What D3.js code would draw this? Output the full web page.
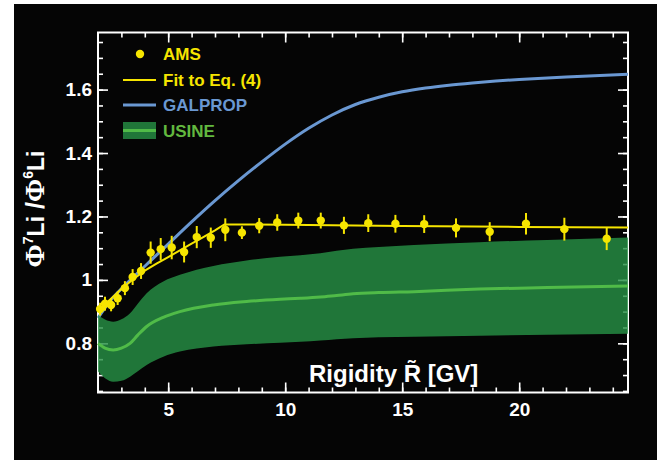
<!DOCTYPE html>
<html lang="en">
<head>
<meta charset="UTF-8">
<title>7Li/6Li ratio</title>
<script src="https://cdn.jsdelivr.net/npm/d3@7"></script>
<style>
  body { margin: 0; background: #fff; }
  text { font-family: "Liberation Sans", Arial, sans-serif; font-weight: bold; }
</style>
</head>
<body>
<div id="chart"></div>
<script>
// AMS data points
const amsR = [2.09, 2.30, 2.56, 2.84, 3.15, 3.48, 3.84, 4.25, 4.68, 5.15, 5.68, 6.22, 6.82, 7.44,
  8.15, 8.89, 9.66, 10.56, 11.52, 12.51, 13.55, 14.71, 15.94, 17.30, 18.74, 20.29, 21.93, 23.74];
const amsRatio = [0.908, 0.925, 0.921, 0.942, 0.974, 1.009, 1.028, 1.086, 1.097, 1.102, 1.088, 1.135, 1.133, 1.158,
  1.149, 1.171, 1.181, 1.187, 1.187, 1.172, 1.179, 1.177, 1.176, 1.164, 1.152, 1.177, 1.160, 1.130];
const amsErr = [0.02, 0.022, 0.02, 0.021, 0.022, 0.025, 0.025, 0.035, 0.035, 0.037, 0.033, 0.035, 0.032, 0.036,
  0.02, 0.024, 0.026, 0.025, 0.025, 0.027, 0.028, 0.028, 0.028, 0.03, 0.03, 0.034, 0.036, 0.036];

// fit to Eq. (4)
const fitR = [2.0, 2.5, 3.0, 3.5, 4.0, 4.5, 5.0, 5.5, 6.0, 6.5, 7.0, 7.4, 10, 15, 20, 24.65];
const fitRatio = [0.903, 0.937, 0.971, 1.002, 1.029, 1.051, 1.072, 1.093, 1.114, 1.135, 1.156, 1.175, 1.174, 1.170, 1.167, 1.165];

// GALPROP model
const galpropR = [2, 2.5, 3, 3.5, 4, 4.5, 5, 6, 7, 8, 9, 10, 11, 12, 13, 14, 15, 16, 17, 18, 19, 20, 22, 24.65];
const galpropRatio = [0.88, 0.932, 0.972, 1.008, 1.043, 1.078, 1.113, 1.183, 1.25, 1.313, 1.372, 1.428, 1.478, 1.52,
  1.553, 1.576, 1.593, 1.605, 1.614, 1.621, 1.627, 1.632, 1.640, 1.648];

// USINE model band
const usineR = [2.0, 2.3, 2.65, 3.0, 3.37, 3.7, 4.08, 4.79, 5.5, 6.93, 8.35, 9.78, 10.65, 11.5, 12.2, 12.9, 14, 15.5, 18.3, 21.2, 24.65];
const usineUpper = [0.889, 0.875, 0.868, 0.876, 0.895, 0.925, 0.958, 0.995, 1.016, 1.044, 1.061, 1.073, 1.078, 1.084, 1.092, 1.098, 1.104, 1.110, 1.119, 1.126, 1.134];
const usineCenter = [0.80, 0.785, 0.779, 0.785, 0.80, 0.826, 0.853, 0.882, 0.90, 0.921, 0.932, 0.939, 0.942, 0.946, 0.951, 0.956, 0.960, 0.963, 0.971, 0.976, 0.981];
const usineLower = [0.711, 0.69, 0.679, 0.682, 0.695, 0.712, 0.732, 0.758, 0.774, 0.79, 0.797, 0.802, 0.805, 0.809, 0.813, 0.816, 0.819, 0.821, 0.824, 0.827, 0.830];

const xTicks = [5, 10, 15, 20];
const yTicks = [0.8, 1, 1.2, 1.4, 1.6];

const width = 672, height = 460;
const marginTop = 32.5, marginRight = 44, marginBottom = 67.5, marginLeft = 98;

const yellow = "#f6e500", blue = "#6a98d2", bandGreen = "#279045", lineGreen = "#50bb48";

const x = d3.scaleLinear().domain([2, 24.65]).range([marginLeft, width - marginRight]);
const y = d3.scaleLinear().domain([0.645, 1.78]).range([height - marginBottom, marginTop]);

const svg = d3.select("#chart").append("svg")
  .attr("width", width)
  .attr("height", height);

svg.append("rect")
  .attr("x", 14).attr("y", 4)
  .attr("width", 643).attr("height", 456)
  .attr("fill", "#050505");

// axes: ticks pointing inward on all four sides
const xMinor = d3.range(3, 25);
const yMinor = d3.range(0.65, 1.78, 0.05);
const axisStyle = g => {
  g.selectAll(".domain").remove();
  g.selectAll("line").attr("stroke", "#fff").attr("stroke-width", 1.6);
  g.selectAll("text").attr("fill", "#fff").attr("font-size", 19);
};

svg.append("g")
  .attr("transform", `translate(0,${height - marginBottom})`)
  .call(d3.axisBottom(x).tickValues(xMinor).tickSize(-5).tickFormat(""))
  .call(axisStyle);
svg.append("g")
  .attr("transform", `translate(0,${height - marginBottom})`)
  .call(d3.axisBottom(x).tickValues(xTicks).tickSize(-10).tickPadding(5).tickFormat(d3.format("d")))
  .call(axisStyle)
  .call(g => g.selectAll("text").attr("dy", "0.95em"));
svg.append("g")
  .attr("transform", `translate(0,${marginTop})`)
  .call(d3.axisTop(x).tickValues(xMinor).tickSize(-5).tickFormat(""))
  .call(axisStyle);
svg.append("g")
  .attr("transform", `translate(0,${marginTop})`)
  .call(d3.axisTop(x).tickValues(xTicks).tickSize(-10).tickFormat(""))
  .call(axisStyle);

svg.append("g")
  .attr("transform", `translate(${marginLeft},0)`)
  .call(d3.axisLeft(y).tickValues(yMinor).tickSize(-5).tickFormat(""))
  .call(axisStyle);
svg.append("g")
  .attr("transform", `translate(${marginLeft},0)`)
  .call(d3.axisLeft(y).tickValues(yTicks).tickSize(-10).tickPadding(6).tickFormat(d => d === 1 ? "1" : d3.format(".1f")(d)))
  .call(axisStyle);
svg.append("g")
  .attr("transform", `translate(${width - marginRight},0)`)
  .call(d3.axisRight(y).tickValues(yMinor).tickSize(-5).tickFormat(""))
  .call(axisStyle);
svg.append("g")
  .attr("transform", `translate(${width - marginRight},0)`)
  .call(d3.axisRight(y).tickValues(yTicks).tickSize(-10).tickFormat(""))
  .call(axisStyle);

// frame
svg.append("rect")
  .attr("x", marginLeft).attr("y", marginTop)
  .attr("width", width - marginRight - marginLeft)
  .attr("height", height - marginBottom - marginTop)
  .attr("fill", "none").attr("stroke", "#fff").attr("stroke-width", 2);

// GALPROP
const galprop = galpropR.map((r, i) => [r, galpropRatio[i]]);
svg.append("path")
  .datum(galprop)
  .attr("fill", "none").attr("stroke", blue).attr("stroke-width", 3)
  .attr("d", d3.line().x(d => x(d[0])).y(d => y(d[1])).curve(d3.curveMonotoneX));

// USINE band + central line
const usine = usineR.map((r, i) => ({r, lo: usineLower[i], mid: usineCenter[i], hi: usineUpper[i]}));
svg.append("path")
  .datum(usine)
  .attr("fill", bandGreen).attr("fill-opacity", 0.82)
  .attr("d", d3.area().x(d => x(d.r)).y0(d => y(d.lo)).y1(d => y(d.hi)).curve(d3.curveMonotoneX));
svg.append("path")
  .datum(usine)
  .attr("fill", "none").attr("stroke", lineGreen).attr("stroke-width", 3)
  .attr("d", d3.line().x(d => x(d.r)).y(d => y(d.mid)).curve(d3.curveMonotoneX));

// fit
const fit = fitR.map((r, i) => [r, fitRatio[i]]);
svg.append("path")
  .datum(fit)
  .attr("fill", "none").attr("stroke", yellow).attr("stroke-width", 2)
  .attr("d", d3.line().x(d => x(d[0])).y(d => y(d[1])));

// AMS points with error bars
const ams = amsR.map((r, i) => ({r, v: amsRatio[i], e: amsErr[i]}));
const pts = svg.append("g");
pts.selectAll("line")
  .data(ams)
  .join("line")
  .attr("x1", d => x(d.r)).attr("x2", d => x(d.r))
  .attr("y1", d => y(d.v - d.e)).attr("y2", d => y(d.v + d.e))
  .attr("stroke", yellow).attr("stroke-width", 2);
pts.selectAll("circle")
  .data(ams)
  .join("circle")
  .attr("cx", d => x(d.r)).attr("cy", d => y(d.v))
  .attr("r", 4.2)
  .attr("fill", yellow);

// legend
const legend = svg.append("g").attr("font-size", 17);
legend.append("circle").attr("cx", 140).attr("cy", 54).attr("r", 4.2).attr("fill", yellow);
legend.append("text").attr("x", 163).attr("y", 60).attr("fill", yellow).text("AMS");
legend.append("line").attr("x1", 123).attr("x2", 156).attr("y1", 80).attr("y2", 80)
  .attr("stroke", yellow).attr("stroke-width", 2);
legend.append("text").attr("x", 163).attr("y", 85.5).attr("fill", yellow).text("Fit to Eq. (4)");
legend.append("line").attr("x1", 123).attr("x2", 156).attr("y1", 105).attr("y2", 105)
  .attr("stroke", blue).attr("stroke-width", 3);
legend.append("text").attr("x", 163).attr("y", 111).attr("fill", blue).text("GALPROP");
legend.append("rect").attr("x", 123).attr("y", 122).attr("width", 33).attr("height", 17)
  .attr("fill", bandGreen).attr("fill-opacity", 0.82);
legend.append("line").attr("x1", 123).attr("x2", 156).attr("y1", 130.5).attr("y2", 130.5)
  .attr("stroke", lineGreen).attr("stroke-width", 3);
legend.append("text").attr("x", 163).attr("y", 136.5).attr("fill", "#62b83f").text("USINE");

// x axis title
const xt = svg.append("text")
  .attr("x", 309).attr("y", 382)
  .attr("fill", "#fff").attr("font-size", 24);
xt.append("tspan").text("Rigidity ");
xt.append("tspan").text("R\u0303");
xt.append("tspan").text(" [GV]");

// y axis title
const yt = svg.append("text")
  .attr("transform", "translate(44,209) rotate(-90)")
  .attr("text-anchor", "middle")
  .attr("fill", "#fff").attr("font-size", 23);
yt.append("tspan").attr("font-family", "Liberation Serif").attr("font-size", 28).text("\u03A6");
yt.append("tspan").attr("font-size", 14).attr("dy", -11).text("7");
yt.append("tspan").attr("dy", 11).text("Li");
yt.append("tspan").attr("font-size", 25).text(" /");
yt.append("tspan").attr("font-family", "Liberation Serif").attr("font-size", 28).text("\u03A6");
yt.append("tspan").attr("font-size", 14).attr("dy", -11).text("6");
yt.append("tspan").attr("dy", 11).text("Li");
</script>
</body>
</html>
